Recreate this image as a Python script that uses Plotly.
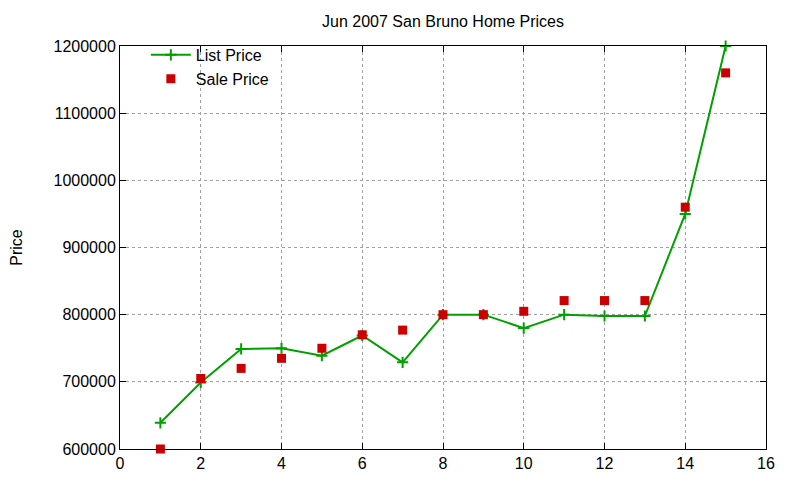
import plotly.graph_objects as go

# Home index (x) and prices
homes = list(range(1, 16))
list_price = [639000, 699000, 749000, 750000, 739000, 769000, 729000, 800000,
              800000, 780000, 800000, 798000, 798000, 950000, 1200000]
sale_price = [600000, 705000, 720000, 735000, 750000, 770000, 777000, 800000,
              800000, 805000, 821000, 821000, 821000, 960000, 1160000]

x_ticks = list(range(0, 17, 2))
y_ticks = list(range(600000, 1200001, 100000))

FONT = "Liberation Sans, Arial, sans-serif"
GREEN = "#00a000"
RED = "#cc0000"

# page body adds ~7px offset, so the figure is sized a bit under the window
W, H = 793, 473

fig = go.Figure()
fig.add_trace(go.Scatter(
    x=homes, y=list_price, name="List Price", mode="lines+markers",
    line=dict(color=GREEN, width=2),
    marker=dict(symbol="cross-thin", size=8, line=dict(color=GREEN, width=2)),
    cliponaxis=False,
))
fig.add_trace(go.Scatter(
    x=homes, y=sale_price, name="Sale Price", mode="markers",
    marker=dict(symbol="square", size=9, color=RED),
    cliponaxis=False,
))

axis_common = dict(
    showline=True, linecolor="black", linewidth=1, mirror="ticks",
    ticks="inside", ticklen=6, tickcolor="black",
    showgrid=True, gridcolor="#a0a0a0", griddash="dot", gridwidth=1,
    zeroline=False, tickfont=dict(size=16, color="black"),
    automargin=False,
)

fig.update_layout(
    width=W, height=H,
    margin=dict(l=112, r=35, t=38, b=32),
    paper_bgcolor="white", plot_bgcolor="white",
    font=dict(family=FONT, size=16, color="black"),
    title=dict(text="Jun 2007 San Bruno Home Prices", x=0.5, xref="paper",
               y=1 - 13 / H, yanchor="middle", font=dict(size=16)),
    xaxis=dict(range=[0, 16], tickvals=x_ticks, **axis_common),
    yaxis=dict(range=[600000, 1200000], tickvals=y_ticks, tickformat="d",
               title=dict(text="Price", standoff=37, font=dict(size=16)),
               **axis_common),
    legend=dict(x=0.04, y=1.02, xanchor="left", yanchor="top",
                bgcolor="rgba(0,0,0,0)", font=dict(size=16),
                tracegroupgap=0, itemwidth=40),
    showlegend=True,
)

fig.write_html("out.html")
